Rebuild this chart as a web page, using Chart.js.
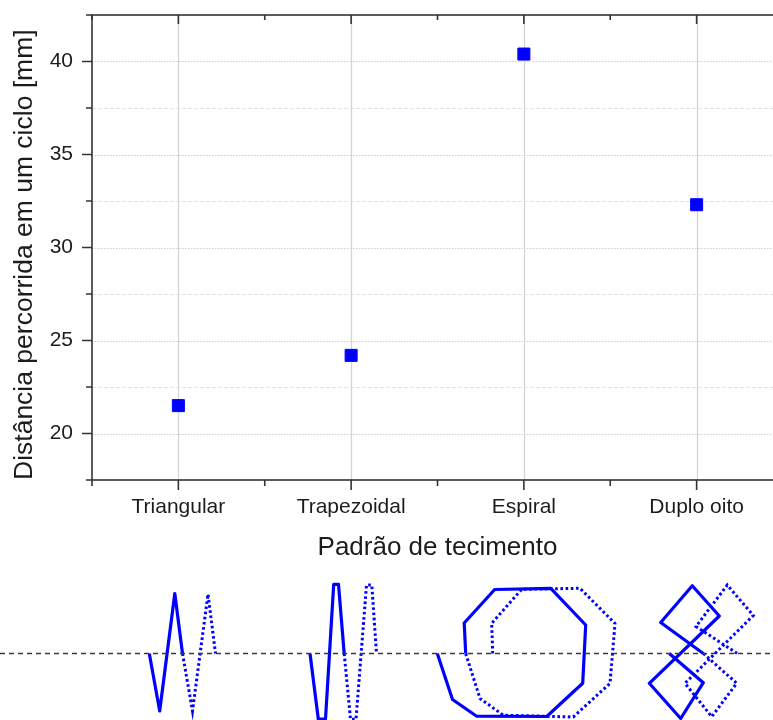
<!DOCTYPE html>
<html>
<head>
<meta charset="utf-8">
<script src="https://cdn.jsdelivr.net/npm/chart.js@4.4.1/dist/chart.umd.min.js"></script>
<style>
  html, body { margin: 0; padding: 0; background: #fff; overflow: hidden; }
  #wrap { width: 773px; height: 720px; overflow: hidden; position: relative; }
  #main { position: absolute; left: 0; top: 0; }
  #sketch { position: absolute; left: 0; top: 575px; }
</style>
</head>
<body>
<div id="wrap">
  <canvas id="main" width="800" height="575"></canvas>
  <canvas id="sketch" width="773" height="145"></canvas>
</div>
<script>
const categories = ['Triangular', 'Trapezoidal', 'Espiral', 'Duplo oito'];
const distance = [21.5, 24.2, 40.4, 32.3];
const yMin = 17.5;
const yMax = 42.5;
const yStep = 2.5;
const yLabelStep = 5;

// sketches of the weave paths below the chart, [x, y] with y from the centre line
// first cycle solid, second cycle dotted
const triangular1 = [[149.3, 0], [159.7, -57.5], [174.8, 60], [182.5, 0]];
const triangular2 = [[182.5, 0], [192.5, -57.5], [208, 59.3], [215.5, 0]];
const trapezoidal1 = [[310, 0], [318.3, -65.5], [325.5, -65.5], [333.7, 69.2], [338.5, 69.2], [344.2, 0]];
const trapezoidal2 = [[344.2, 0], [350.5, -65.8], [356, -65.8], [366.5, 68.5], [371.8, 68.5], [376.5, 0]];
const espiral1 = [[437.3, 0], [452.5, -46], [476.7, -62.7], [546.7, -63], [582.7, -29.8], [585.7, 28.5],
                  [550.8, 65.2], [494.7, 64], [464.2, 30.5], [465.7, 0]];
const espiral2 = [[465.7, 0], [480, -45], [503.3, -61.7], [573.3, -63.5], [610, -29.8], [615, 30],
                  [580, 65.2], [521.7, 64.2], [491.7, 30.2], [492.7, 0]];
const duploOito1 = [[669.3, 0], [703.3, -29.2], [680.7, -65], [649.3, -29.8], [719.3, 37.5],
                    [692.3, 67.8], [660.7, 31], [703.3, 0]];
const duploOito2 = [[703.3, 0], [736.7, -29.8], [711.7, -63.2], [685, -29.8], [753.3, 38],
                    [727.3, 68.5], [696, 27], [737.3, 0]];
const centreLine = [[0, 0], [773, 0]];

Chart.defaults.font.family = '"Liberation Sans", Arial, sans-serif';
Chart.defaults.color = '#1c1c1c';

const frameColor = '#333333';

// gridlines, frame and tick marks in the Origin style
const framePlugin = {
  id: 'frame',
  beforeDatasetsDraw(chart) {
    const {ctx, chartArea: a, scales: {x, y}} = chart;
    ctx.save();
    ctx.lineWidth = 1;
    y.ticks.forEach(t => {
      const py = Math.round(y.getPixelForValue(t.value)) + 0.5;
      const major = t.value % yLabelStep === 0;
      if (t.value === yMin || t.value === yMax) return;
      ctx.strokeStyle = major ? '#cccccc' : '#e4e4e4';
      ctx.setLineDash(major ? [1.5, 1.5] : [4, 2]);
      ctx.beginPath();
      ctx.moveTo(a.left, py);
      ctx.lineTo(a.right, py);
      ctx.stroke();
    });
    ctx.setLineDash([]);
    ctx.strokeStyle = '#d4d4d4';
    ctx.lineWidth = 1.3;
    categories.forEach((c, i) => {
      const px = Math.round(x.getPixelForValue(i)) + 0.5;
      ctx.beginPath();
      ctx.moveTo(px, a.top);
      ctx.lineTo(px, a.bottom);
      ctx.stroke();
    });
    ctx.restore();
  },
  afterDraw(chart) {
    const {ctx, chartArea: a, scales: {x, y}} = chart;
    ctx.save();
    ctx.strokeStyle = frameColor;
    ctx.lineWidth = 1.6;
    ctx.strokeRect(a.left, a.top, a.right - a.left, a.bottom - a.top);
    // y ticks: outward on the left, inward on the right
    y.ticks.forEach(t => {
      const py = y.getPixelForValue(t.value);
      const len = t.value % yLabelStep === 0 ? 10 : 6;
      ctx.beginPath();
      ctx.moveTo(a.left - len, py);
      ctx.lineTo(a.left, py);
      ctx.moveTo(a.right - len + 1, py);
      ctx.lineTo(a.right, py);
      ctx.stroke();
    });
    // x ticks: outward at the bottom, inward at the top
    for (let v = -0.5; v <= categories.length - 0.5; v += 0.5) {
      const px = x.getPixelForValue(v);
      const major = Number.isInteger(v);
      ctx.beginPath();
      ctx.moveTo(px, a.bottom);
      ctx.lineTo(px, a.bottom + (major ? 10 : 6));
      ctx.moveTo(px, a.top);
      ctx.lineTo(px, a.top + (major ? 9 : 5));
      ctx.stroke();
    }
    ctx.restore();
  }
};

new Chart(document.getElementById('main'), {
  type: 'line',
  data: {
    labels: categories,
    datasets: [{
      data: distance,
      showLine: false,
      pointStyle: 'rect',
      pointRadius: 8.5,
      pointBackgroundColor: '#0000ff',
      pointBorderColor: '#0000ff',
      pointBorderWidth: 1,
      clip: false
    }]
  },
  options: {
    responsive: false,
    animation: false,
    layout: { padding: { top: 15, right: 17, left: 0, bottom: 0 } },
    plugins: { legend: { display: false }, tooltip: { enabled: false } },
    scales: {
      x: {
        type: 'category',
        offset: true,
        afterFit: s => { s.height = 95; },
        grid: { display: false, drawTicks: false },
        border: { display: false },
        ticks: { padding: 15, font: { size: 21 }, maxRotation: 0, autoSkip: false },
        title: {
          display: true,
          text: 'Padrão de tecimento',
          font: { size: 26 },
          padding: { top: 4, bottom: 12 }
        }
      },
      y: {
        min: yMin,
        max: yMax,
        afterFit: s => { s.width = 92; s.paddingTop = 0; s.paddingBottom = 0; },
        grid: { display: false, drawTicks: false },
        border: { display: false },
        ticks: {
          stepSize: yStep,
          padding: 19,
          font: { size: 21 },
          autoSkip: false,
          callback: v => (v % yLabelStep === 0 ? v : '')
        },
        title: {
          display: true,
          text: 'Distância percorrida em um ciclo [mm]',
          align: 'start',
          font: { size: 26.5 },
          padding: { top: 9, bottom: 0 }
        }
      }
    }
  },
  plugins: [framePlugin]
});

const toPts = arr => arr.map(p => ({ x: p[0], y: p[1] }));
const solid = arr => ({
  data: toPts(arr), showLine: true, pointRadius: 0, borderColor: '#0000ff',
  borderWidth: 3.2, borderJoinStyle: 'round', tension: 0
});
const dotted = arr => ({
  data: toPts(arr), showLine: true, pointRadius: 0, borderColor: '#0000ff',
  borderWidth: 3, borderDash: [2.6, 2.6], tension: 0
});

new Chart(document.getElementById('sketch'), {
  type: 'scatter',
  data: {
    datasets: [
      {
        data: toPts(centreLine), showLine: true, pointRadius: 0,
        borderColor: '#3a3a3a', borderWidth: 1.6, borderDash: [5, 4]
      },
      solid(triangular1), dotted(triangular2),
      solid(trapezoidal1), dotted(trapezoidal2),
      solid(espiral1), dotted(espiral2),
      solid(duploOito1), dotted(duploOito2)
    ]
  },
  options: {
    responsive: false,
    animation: false,
    layout: { padding: 0 },
    plugins: { legend: { display: false }, tooltip: { enabled: false } },
    scales: {
      x: { type: 'linear', min: 0, max: 773, display: false },
      y: { type: 'linear', min: -66.5, max: 78.5, display: false }
    }
  }
});
</script>
</body>
</html>
